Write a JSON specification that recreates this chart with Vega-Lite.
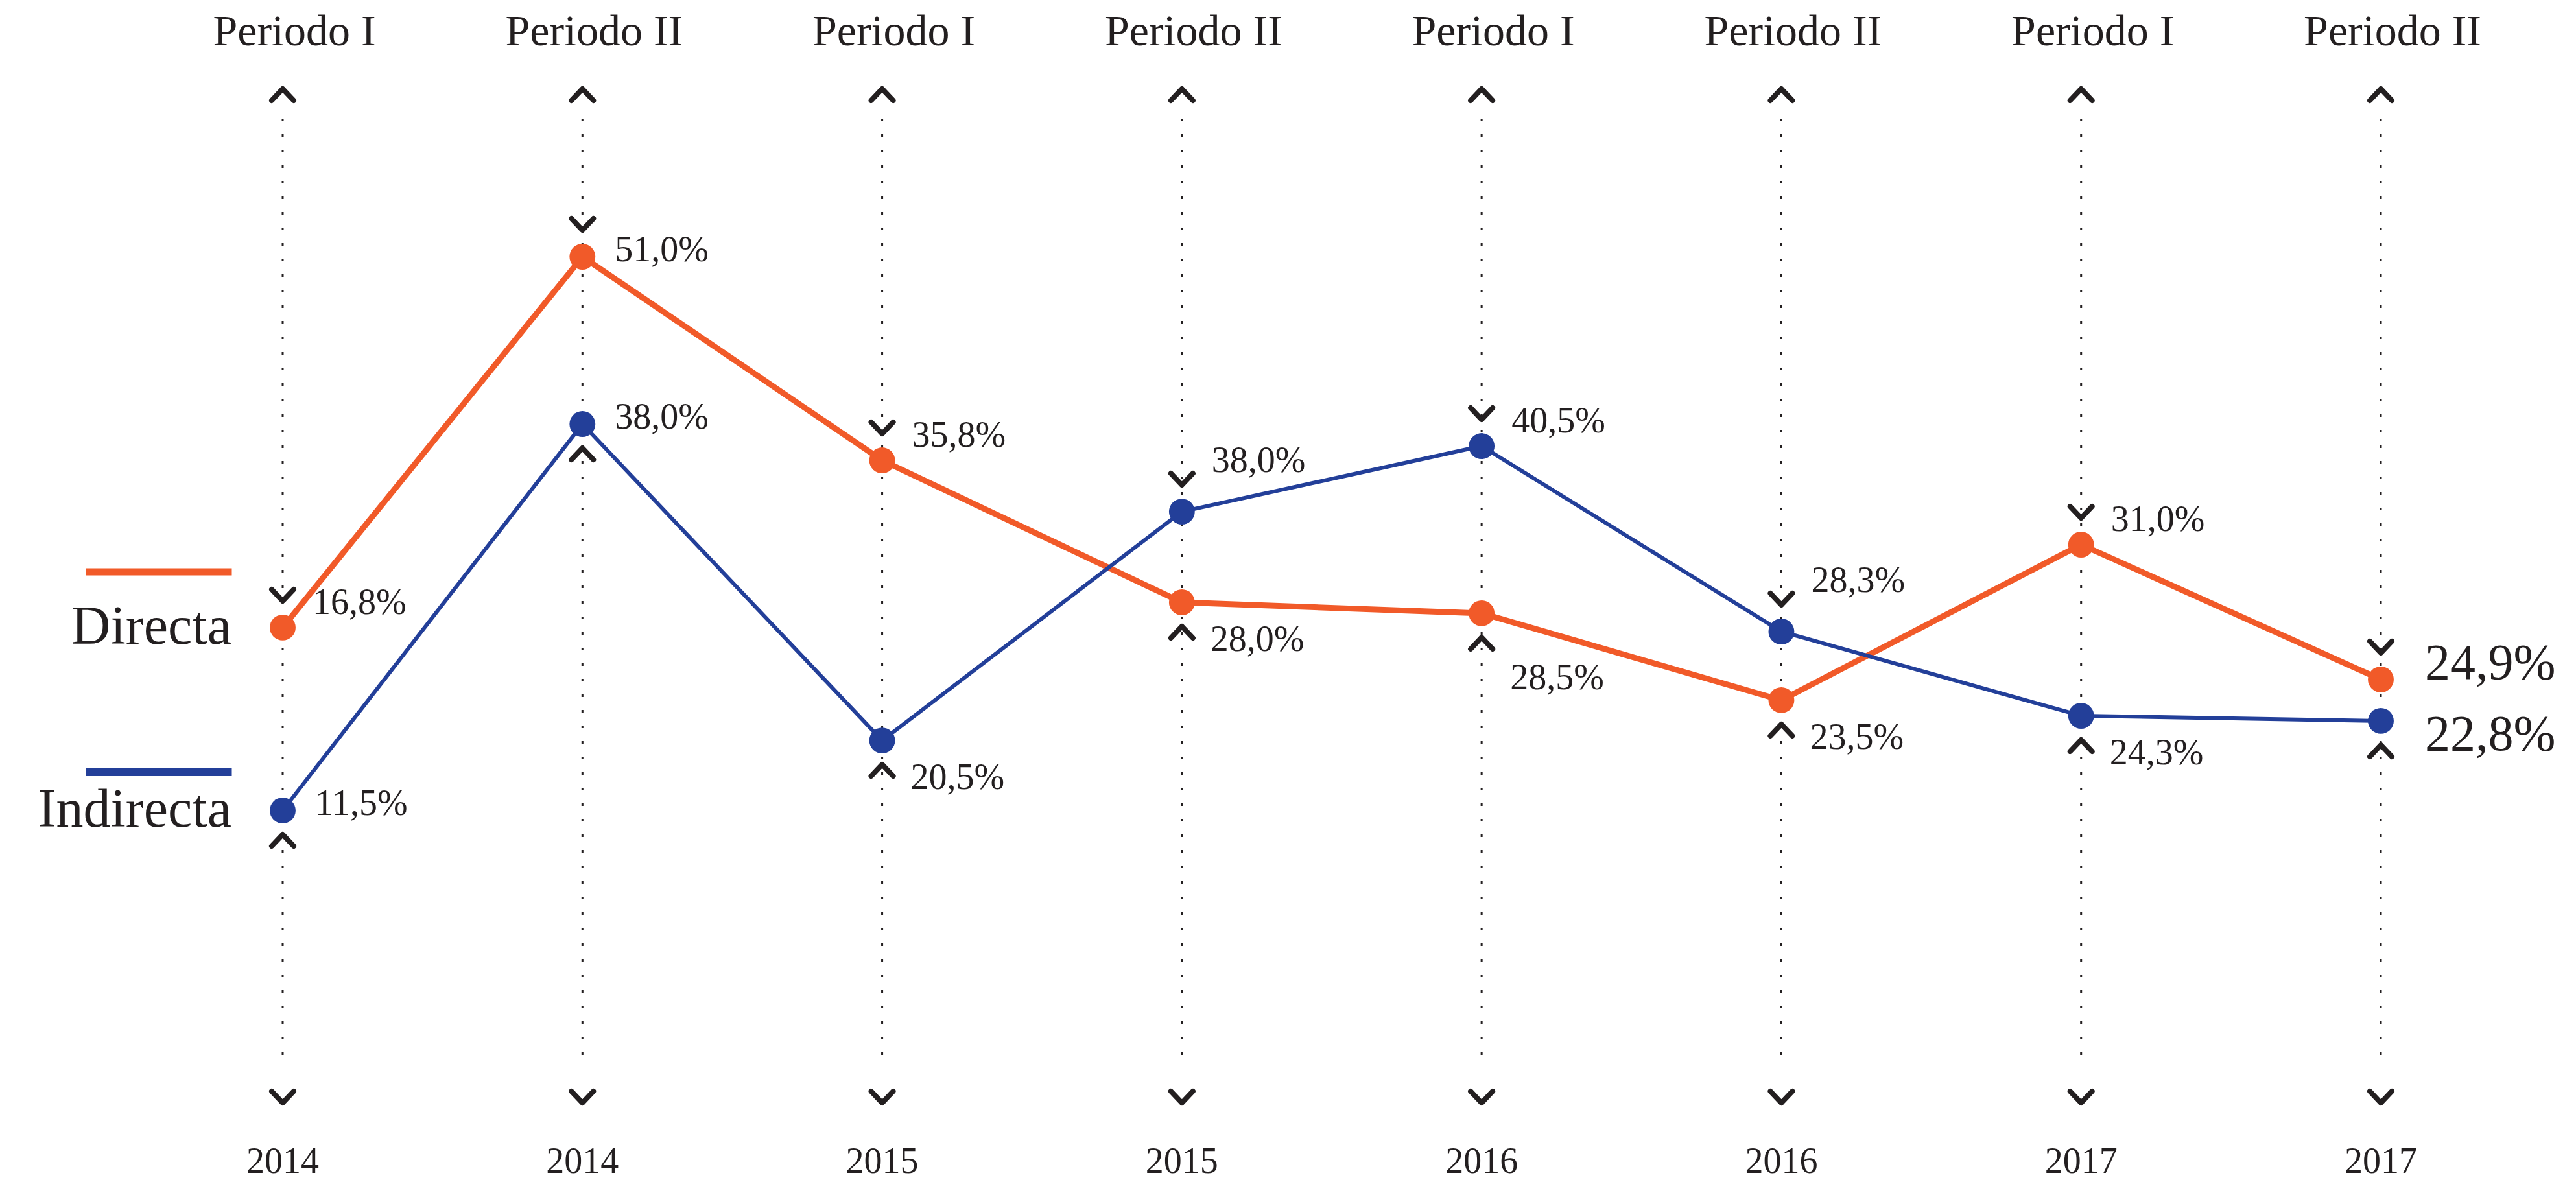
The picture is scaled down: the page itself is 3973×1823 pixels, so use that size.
{
  "$schema": "https://vega.github.io/schema/vega-lite/v6.json",
  "width": 3236,
  "height": 1823,
  "autosize": {"type": "none"},
  "padding": {"left": 436, "right": 301, "top": 0, "bottom": 0},
  "background": "white",
  "config": {"view": {"stroke": null}, "text": {"font": "Liberation Serif", "color": "#231F20"}},
  "datasets": {
    "columnas": [
      {"corte": "2014-I", "anio": "2014", "periodo": "Periodo I"},
      {"corte": "2014-II", "anio": "2014", "periodo": "Periodo II"},
      {"corte": "2015-I", "anio": "2015", "periodo": "Periodo I"},
      {"corte": "2015-II", "anio": "2015", "periodo": "Periodo II"},
      {"corte": "2016-I", "anio": "2016", "periodo": "Periodo I"},
      {"corte": "2016-II", "anio": "2016", "periodo": "Periodo II"},
      {"corte": "2017-I", "anio": "2017", "periodo": "Periodo I"},
      {"corte": "2017-II", "anio": "2017", "periodo": "Periodo II"}
    ],
    "puntos": [
      {"corte": "2014-I", "serie": "Directa", "nivel": 26.27, "valor": "16,8%", "marca": "arriba", "etiqueta": "arriba"},
      {"corte": "2014-II", "serie": "Directa", "nivel": 54.35, "valor": "51,0%", "marca": "arriba", "etiqueta": "derecha"},
      {"corte": "2015-I", "serie": "Directa", "nivel": 38.93, "valor": "35,8%", "marca": "arriba", "etiqueta": "arriba"},
      {"corte": "2015-II", "serie": "Directa", "nivel": 28.18, "valor": "28,0%", "marca": "abajo", "etiqueta": "abajo"},
      {"corte": "2016-I", "serie": "Directa", "nivel": 27.35, "valor": "28,5%", "marca": "abajo", "etiqueta": "abajo lejos"},
      {"corte": "2016-II", "serie": "Directa", "nivel": 20.77, "valor": "23,5%", "marca": "abajo", "etiqueta": "abajo"},
      {"corte": "2017-I", "serie": "Directa", "nivel": 32.55, "valor": "31,0%", "marca": "arriba", "etiqueta": "arriba"},
      {"corte": "2017-II", "serie": "Directa", "nivel": 22.34, "valor": "24,9%", "marca": "arriba", "etiqueta": "arriba"},
      {"corte": "2014-I", "serie": "Indirecta", "nivel": 12.42, "valor": "11,5%", "marca": "abajo", "etiqueta": "derecha"},
      {"corte": "2014-II", "serie": "Indirecta", "nivel": 41.68, "valor": "38,0%", "marca": "abajo", "etiqueta": "derecha"},
      {"corte": "2015-I", "serie": "Indirecta", "nivel": 17.72, "valor": "20,5%", "marca": "abajo", "etiqueta": "abajo"},
      {"corte": "2015-II", "serie": "Indirecta", "nivel": 35.05, "valor": "38,0%", "marca": "arriba", "etiqueta": "arriba lejos"},
      {"corte": "2016-I", "serie": "Indirecta", "nivel": 40.01, "valor": "40,5%", "marca": "arriba", "etiqueta": "arriba"},
      {"corte": "2016-II", "serie": "Indirecta", "nivel": 25.97, "valor": "28,3%", "marca": "arriba", "etiqueta": "arriba lejos"},
      {"corte": "2017-I", "serie": "Indirecta", "nivel": 19.59, "valor": "24,3%", "marca": "abajo", "etiqueta": "abajo"},
      {"corte": "2017-II", "serie": "Indirecta", "nivel": 19.2, "valor": "22,8%", "marca": "abajo", "etiqueta": "abajo"}
    ]
  },
  "encoding": {
    "x": {
      "field": "corte",
      "type": "nominal",
      "scale": {"type": "point", "padding": 0, "domain": ["2014-I", "2014-II", "2015-I", "2015-II", "2016-I", "2016-II", "2017-I", "2017-II"]},
      "axis": null
    }
  },
  "layer": [
    {
      "data": {"name": "columnas"},
      "mark": {"type": "rule", "strokeDash": [4, 20], "strokeWidth": 3, "color": "#231F20"},
      "encoding": {
        "y": {"datum": 64.8, "type": "quantitative", "scale": {"domain": [-15.71, 73.79], "nice": false, "zero": false}, "axis": null},
        "y2": {"datum": -6.33}
      }
    },
    {
      "data": {"name": "columnas"},
      "mark": {"type": "point", "shape": "M-1,0.53L0,-0.53L1,0.53", "size": 1156, "filled": false, "strokeWidth": 8, "strokeCap": "round", "strokeJoin": "round", "color": "#231F20", "opacity": 1},
      "encoding": {
        "y": {"datum": 66.62, "type": "quantitative", "scale": {"domain": [-15.71, 73.79], "nice": false, "zero": false}, "axis": null}
      }
    },
    {
      "data": {"name": "columnas"},
      "mark": {"type": "point", "shape": "M-1,-0.53L0,0.53L1,-0.53", "size": 1156, "filled": false, "strokeWidth": 8, "strokeCap": "round", "strokeJoin": "round", "color": "#231F20", "opacity": 1},
      "encoding": {
        "y": {"datum": -9.28, "type": "quantitative", "scale": {"domain": [-15.71, 73.79], "nice": false, "zero": false}, "axis": null}
      }
    },
    {
      "data": {"name": "columnas"},
      "mark": {"type": "text", "fontSize": 68, "baseline": "middle", "align": "center", "dx": 18},
      "encoding": {
        "y": {"datum": 71.33, "type": "quantitative", "scale": {"domain": [-15.71, 73.79], "nice": false, "zero": false}, "axis": null},
        "text": {"field": "periodo"}
      }
    },
    {
      "data": {"name": "columnas"},
      "mark": {"type": "text", "fontSize": 56, "baseline": "middle", "align": "center"},
      "encoding": {
        "y": {"datum": -14.19, "type": "quantitative", "scale": {"domain": [-15.71, 73.79], "nice": false, "zero": false}, "axis": null},
        "text": {"field": "anio"}
      }
    },
    {
      "data": {"name": "puntos"},
      "mark": {"type": "line", "strokeJoin": "round", "strokeCap": "round"},
      "encoding": {
        "y": {"field": "nivel", "type": "quantitative", "scale": {"domain": [-15.71, 73.79], "nice": false, "zero": false}, "axis": null},
        "color": {"field": "serie", "type": "nominal", "scale": {"domain": ["Directa", "Indirecta"], "range": ["#F15A29", "#233F99"]}, "legend": null},
        "strokeWidth": {"field": "serie", "type": "nominal", "scale": {"domain": ["Directa", "Indirecta"], "range": [9, 6]}, "legend": null}
      }
    },
    {
      "data": {"name": "puntos"},
      "transform": [{"filter": "datum.marca === 'arriba'"}],
      "mark": {"type": "point", "shape": "M-1,-0.53L0,0.53L1,-0.53", "size": 1156, "filled": false, "strokeWidth": 8, "strokeCap": "round", "strokeJoin": "round", "color": "#231F20", "opacity": 1, "yOffset": -50},
      "encoding": {
        "y": {"field": "nivel", "type": "quantitative", "scale": {"domain": [-15.71, 73.79], "nice": false, "zero": false}, "axis": null}
      }
    },
    {
      "data": {"name": "puntos"},
      "transform": [{"filter": "datum.marca === 'abajo'"}],
      "mark": {"type": "point", "shape": "M-1,0.53L0,-0.53L1,0.53", "size": 1156, "filled": false, "strokeWidth": 8, "strokeCap": "round", "strokeJoin": "round", "color": "#231F20", "opacity": 1, "yOffset": 46},
      "encoding": {
        "y": {"field": "nivel", "type": "quantitative", "scale": {"domain": [-15.71, 73.79], "nice": false, "zero": false}, "axis": null}
      }
    },
    {
      "data": {"name": "puntos"},
      "mark": {"type": "point", "shape": "circle", "size": 1590, "filled": true, "opacity": 1, "strokeWidth": 0},
      "encoding": {
        "y": {"field": "nivel", "type": "quantitative", "scale": {"domain": [-15.71, 73.79], "nice": false, "zero": false}, "axis": null},
        "color": {"field": "serie", "type": "nominal", "scale": {"domain": ["Directa", "Indirecta"], "range": ["#F15A29", "#233F99"]}, "legend": null}
      }
    },
    {
      "data": {"name": "puntos"},
      "transform": [{"filter": "datum.etiqueta === 'arriba' && datum.corte !== '2017-II'"}],
      "mark": {"type": "text", "fontSize": 56, "baseline": "middle", "align": "left", "dx": 46, "dy": -38},
      "encoding": {
        "y": {"field": "nivel", "type": "quantitative", "scale": {"domain": [-15.71, 73.79], "nice": false, "zero": false}, "axis": null},
        "text": {"field": "valor"}
      }
    },
    {
      "data": {"name": "puntos"},
      "transform": [{"filter": "datum.etiqueta === 'arriba lejos' && datum.corte !== '2017-II'"}],
      "mark": {"type": "text", "fontSize": 56, "baseline": "middle", "align": "left", "dx": 46, "dy": -78},
      "encoding": {
        "y": {"field": "nivel", "type": "quantitative", "scale": {"domain": [-15.71, 73.79], "nice": false, "zero": false}, "axis": null},
        "text": {"field": "valor"}
      }
    },
    {
      "data": {"name": "puntos"},
      "transform": [{"filter": "datum.etiqueta === 'derecha' && datum.corte !== '2017-II'"}],
      "mark": {"type": "text", "fontSize": 56, "baseline": "middle", "align": "left", "dx": 50, "dy": -10},
      "encoding": {
        "y": {"field": "nivel", "type": "quantitative", "scale": {"domain": [-15.71, 73.79], "nice": false, "zero": false}, "axis": null},
        "text": {"field": "valor"}
      }
    },
    {
      "data": {"name": "puntos"},
      "transform": [{"filter": "datum.etiqueta === 'abajo' && datum.corte !== '2017-II'"}],
      "mark": {"type": "text", "fontSize": 56, "baseline": "middle", "align": "left", "dx": 44, "dy": 58},
      "encoding": {
        "y": {"field": "nivel", "type": "quantitative", "scale": {"domain": [-15.71, 73.79], "nice": false, "zero": false}, "axis": null},
        "text": {"field": "valor"}
      }
    },
    {
      "data": {"name": "puntos"},
      "transform": [{"filter": "datum.etiqueta === 'abajo lejos' && datum.corte !== '2017-II'"}],
      "mark": {"type": "text", "fontSize": 56, "baseline": "middle", "align": "left", "dx": 44, "dy": 100},
      "encoding": {
        "y": {"field": "nivel", "type": "quantitative", "scale": {"domain": [-15.71, 73.79], "nice": false, "zero": false}, "axis": null},
        "text": {"field": "valor"}
      }
    },
    {
      "data": {"name": "puntos"},
      "transform": [{"filter": "datum.corte === '2017-II' && datum.etiqueta === 'arriba'"}],
      "mark": {"type": "text", "fontSize": 78, "baseline": "middle", "align": "left", "dx": 68, "dy": -24},
      "encoding": {
        "y": {"field": "nivel", "type": "quantitative", "scale": {"domain": [-15.71, 73.79], "nice": false, "zero": false}, "axis": null},
        "text": {"field": "valor"}
      }
    },
    {
      "data": {"name": "puntos"},
      "transform": [{"filter": "datum.corte === '2017-II' && datum.etiqueta === 'abajo'"}],
      "mark": {"type": "text", "fontSize": 78, "baseline": "middle", "align": "left", "dx": 68, "dy": 22},
      "encoding": {
        "y": {"field": "nivel", "type": "quantitative", "scale": {"domain": [-15.71, 73.79], "nice": false, "zero": false}, "axis": null},
        "text": {"field": "valor"}
      }
    },
    {
      "data": {"name": "puntos"},
      "transform": [{"filter": "datum.corte === '2014-I' && datum.serie === 'Directa'"}],
      "mark": {"type": "tick", "size": 225, "thickness": 11, "opacity": 1, "xOffset": -191, "yOffset": -86},
      "encoding": {
        "y": {"field": "nivel", "type": "quantitative", "scale": {"domain": [-15.71, 73.79], "nice": false, "zero": false}, "axis": null},
        "color": {"field": "serie", "type": "nominal", "scale": {"domain": ["Directa", "Indirecta"], "range": ["#F15A29", "#233F99"]}, "legend": null}
      }
    },
    {
      "data": {"name": "puntos"},
      "transform": [{"filter": "datum.corte === '2014-I' && datum.serie === 'Indirecta'"}],
      "mark": {"type": "tick", "size": 225, "thickness": 12, "opacity": 1, "xOffset": -191, "yOffset": -59},
      "encoding": {
        "y": {"field": "nivel", "type": "quantitative", "scale": {"domain": [-15.71, 73.79], "nice": false, "zero": false}, "axis": null},
        "color": {"field": "serie", "type": "nominal", "scale": {"domain": ["Directa", "Indirecta"], "range": ["#F15A29", "#233F99"]}, "legend": null}
      }
    },
    {
      "data": {"name": "puntos"},
      "transform": [{"filter": "datum.corte === '2014-I'"}],
      "mark": {"type": "text", "fontSize": 84, "baseline": "middle", "align": "right", "dx": -79},
      "encoding": {
        "y": {"field": "nivel", "type": "quantitative", "scale": {"domain": [-15.71, 73.79], "nice": false, "zero": false}, "axis": null},
        "text": {"field": "serie"}
      }
    }
  ]
}
